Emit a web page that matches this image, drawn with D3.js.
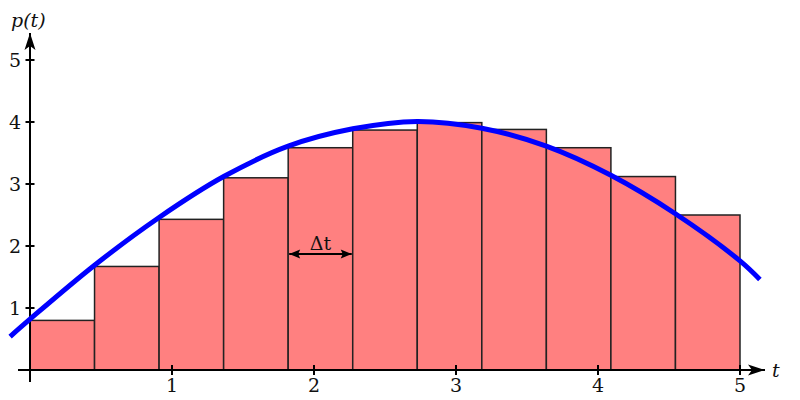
<!DOCTYPE html>
<html>
<head>
<meta charset="utf-8">
<script src="https://cdn.jsdelivr.net/npm/d3@7"></script>
<style>
  html, body { margin: 0; padding: 0; background: #fff; }
  svg { display: block; }
  text { font-family: "DejaVu Serif", serif; fill: #111; }
</style>
</head>
<body>
<div id="chart"></div>
<script>
// Data
const dt = 5 / 11;
const barHeights = [0.8, 1.67, 2.43, 3.1, 3.585, 3.87, 3.99, 3.88, 3.585, 3.12, 2.5];
const curveT = [-0.14, 0, 0.4545, 0.909, 1.364, 1.818, 2.273, 2.727, 3.182, 3.636, 4.091, 4.545, 5, 5.14];
const curveP = [0.54, 0.82, 1.69, 2.46, 3.12, 3.61, 3.89, 4.01, 3.9, 3.61, 3.14, 2.52, 1.76, 1.46];
const xTicks = [1, 2, 3, 4, 5];
const yTicks = [1, 2, 3, 4, 5];

const width = 800, height = 400;
const fs = 19;
const svg = d3.select('#chart').append('svg')
  .attr('width', width)
  .attr('height', height);

const x = d3.scaleLinear().domain([0, 5]).range([30, 740]);
const y = d3.scaleLinear().domain([0, 5]).range([370, 60]);

// arrow heads
const defs = svg.append('defs');
defs.append('marker')
  .attr('id', 'axisArrow')
  .attr('markerUnits', 'userSpaceOnUse')
  .attr('viewBox', '-18 -6 19 12')
  .attr('markerWidth', 19).attr('markerHeight', 12)
  .attr('refX', 0).attr('refY', 0)
  .attr('orient', 'auto')
  .append('path')
  .attr('d', 'M0,0 L-17,-5.5 L-13,0 L-17,5.5 Z')
  .attr('fill', '#000');
defs.append('marker')
  .attr('id', 'smallArrow')
  .attr('markerUnits', 'userSpaceOnUse')
  .attr('viewBox', '-12 -5 13 10')
  .attr('markerWidth', 13).attr('markerHeight', 10)
  .attr('refX', 0).attr('refY', 0)
  .attr('orient', 'auto-start-reverse')
  .append('path')
  .attr('d', 'M0,0 L-11,-4.5 L-9,0 L-11,4.5 Z')
  .attr('fill', '#000');

// rectangles
svg.append('g').selectAll('rect')
  .data(barHeights)
  .join('rect')
  .attr('x', (d, i) => x(i * dt))
  .attr('y', d => y(d))
  .attr('width', x(dt) - x(0))
  .attr('height', d => y(0) - y(d))
  .attr('fill', '#ff8080')
  .attr('stroke', '#222')
  .attr('stroke-width', 1.5);

// delta t arrow in the fifth bar
const dY = 254;
svg.append('line')
  .attr('x1', x(4 * dt) + 1).attr('x2', x(5 * dt) - 1)
  .attr('y1', dY).attr('y2', dY)
  .attr('stroke', '#000').attr('stroke-width', 2)
  .attr('marker-start', 'url(#smallArrow)')
  .attr('marker-end', 'url(#smallArrow)');
svg.append('text')
  .attr('x', x(4.5 * dt)).attr('y', dY - 4)
  .attr('text-anchor', 'middle')
  .attr('font-size', fs)
  .text('Δt');

// axes
const axes = svg.append('g').attr('stroke', '#000').attr('stroke-width', 2);
axes.append('line')
  .attr('x1', 18).attr('x2', 765)
  .attr('y1', y(0)).attr('y2', y(0))
  .attr('marker-end', 'url(#axisArrow)');
axes.append('line')
  .attr('x1', x(0)).attr('x2', x(0))
  .attr('y1', 382).attr('y2', 33)
  .attr('marker-end', 'url(#axisArrow)');

axes.selectAll('.xt')
  .data(xTicks)
  .join('line')
  .attr('x1', d => x(d)).attr('x2', d => x(d))
  .attr('y1', y(0) - 5).attr('y2', y(0) + 5);
axes.selectAll('.yt')
  .data(yTicks)
  .join('line')
  .attr('x1', x(0) - 4.5).attr('x2', x(0) + 4.5)
  .attr('y1', d => y(d)).attr('y2', d => y(d));

svg.append('g').selectAll('text')
  .data(xTicks)
  .join('text')
  .attr('x', d => x(d))
  .attr('y', 391.5)
  .attr('text-anchor', 'middle')
  .attr('font-size', fs)
  .text(d => d);
svg.append('g').selectAll('text')
  .data(yTicks)
  .join('text')
  .attr('x', 21)
  .attr('y', d => y(d) + 7)
  .attr('text-anchor', 'end')
  .attr('font-size', fs)
  .text(d => d);

svg.append('text')
  .attr('x', 11).attr('y', 27)
  .attr('font-size', fs)
  .attr('font-style', 'italic')
  .text('p(t)');
svg.append('text')
  .attr('x', 772).attr('y', 377)
  .attr('font-size', fs)
  .attr('font-style', 'italic')
  .text('t');

// the function curve
const line = d3.line()
  .x(i => x(curveT[i]))
  .y(i => y(curveP[i]))
  .curve(d3.curveCatmullRom);
svg.append('path')
  .attr('d', line(d3.range(curveT.length)))
  .attr('fill', 'none')
  .attr('stroke', '#0000ff')
  .attr('stroke-width', 5);
</script>
</body>
</html>
